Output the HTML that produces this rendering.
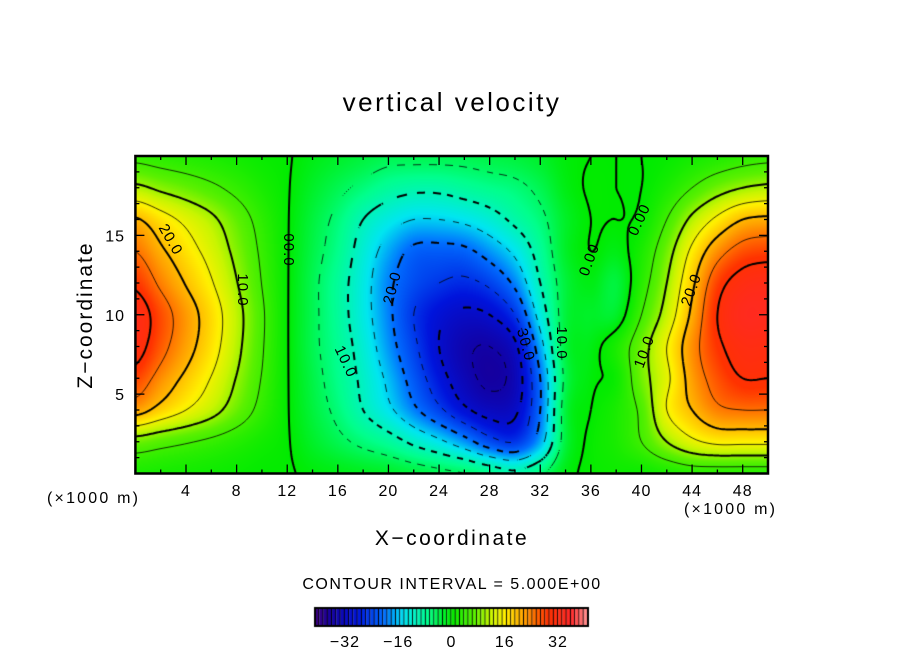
<!DOCTYPE html>
<html><head><meta charset="utf-8"><style>
body{margin:0;background:#fff;width:904px;height:654px;overflow:hidden;position:relative;font-family:"Liberation Sans",sans-serif;}
.t{position:absolute;color:#000;white-space:nowrap;}
canvas,svg{position:absolute;left:0;top:0;}
</style></head><body>
<canvas id="cv" width="904" height="654"></canvas>
<svg id="ov" width="904" height="654"></svg>
<div class="t" style="left:0;width:904px;text-align:center;top:87px;font-size:26px;letter-spacing:2.5px;">vertical velocity</div>
<div class="t" style="left:86px;top:315px;font-size:21px;letter-spacing:2px;transform:translate(-50%,-50%) rotate(-90deg);">Z−coordinate</div>
<div class="t" style="left:0;width:904px;text-align:center;top:527px;font-size:21px;letter-spacing:2.5px;">X−coordinate</div>
<div class="t" style="left:47px;top:490px;font-size:16px;letter-spacing:2.2px;">(×1000 m)</div>
<div class="t" style="left:684px;top:501px;font-size:16px;letter-spacing:2.2px;">(×1000 m)</div>
<div class="t" style="left:0;width:904px;text-align:center;top:576px;font-size:16px;letter-spacing:1.5px;">CONTOUR INTERVAL = 5.000E+00</div>
<script>
const xs=[0,2,4,6,8,10,12,14,16,18,20,22,24,26,28,30,32,34,36,38,40,42,44,46,48,50];
const zs=[0,2,4,6,8,10,12,14,16,18,20];
const w00=[2,1.7,1.4,1.1,.7,.3,.2,-.5,-1,-1.5,-2,-3,-4,-5,-7,-9,-6,-1,.5,1,1,2,3,3,3,3];
const w02=[8,6.6,5.4,4.2,2.8,1.4,.2,-2,-4,-6,-8,-11,-14,-18,-23,-25,-17,-3,.5,2,5,10,14,16,16,16];
const w04=[22,18.3,15,11.7,7.7,3.7,.2,-3,-6,-10,-14,-19,-24,-29,-32,-31,-20,-3,0,2,6,15,20,24,25,25];
const w06=[28,23.2,19,14.8,9.8,4.8,.2,-3.5,-7,-11,-16,-22,-28,-33,-36,-33,-20,-4,-.5,1,8,14,22,27,30,30];
const w08=[32,26.6,21.8,17,11.2,5.4,.2,-4,-7.5,-12,-18,-24,-30,-34,-35,-31,-17,-3,-1,2,8,15,23,29,32,32];
const w10=[33,27.4,22.4,17.5,11.6,5.6,.2,-4,-8,-13,-19,-25,-29,-31,-30,-25,-13,-3,-2,-2,5,12,21,30,34,34];
const w12=[29,24.1,19.7,15.4,10.2,4.9,.2,-4,-8,-13,-19,-23,-25,-26,-24,-19,-10,-3,-1,-3,3,10,19,28,32,33];
const w14=[25,20.8,17,13.3,8.8,4.3,.2,-3.5,-7,-12,-17,-21,-21.5,-21,-18,-14,-8,-2,0,-1,2,8,16,23,27,28];
const w16=[20.5,17,13.9,10.9,7.2,3.5,.2,-3,-6,-10,-13,-15,-15,-14,-12,-9,-6,-2,0,0,.5,5,11,16,20,21];
const w18=[11,9.1,7.5,5.8,3.9,1.9,.2,-2,-4,-6,-8,-9,-9,-8,-7,-6,-4,-1,.2,0,0,2,5,8,10,11];
const w20=[4,3.3,2.7,2.1,1.4,.7,.2,-1,-2,-3,-4,-4,-4,-4,-3.5,-3,-2,-.5,0,0,0,.5,1.5,2.5,3.5,4];
const grid=[w00,w02,w04,w06,w08,w10,w12,w14,w16,w18,w20];
const xTicks=[4,8,12,16,20,24,28,32,36,40,44,48];
const zTicks=[5,10,15];
const cbTicks=[-32,-16,0,16,32];
const levels=[-35,-30,-25,-20,-15,-10,-5,0,5,10,15,20,25,30];

const L=135.4,R=768,T=156,B=473.5,X0=0,X1=50,Z0=0,Z1=20;
const sx=x=>L+(x-X0)/(X1-X0)*(R-L);
const sz=z=>B-(z-Z0)/(Z1-Z0)*(B-T);
const stops=[[-41,[64,0,128]],[-36,[20,0,160]],[-28,[0,20,220]],[-20,[0,110,255]],[-14,[0,230,240]],[-7,[0,255,140]],[0,[0,235,0]],[7,[90,240,0]],[12,[200,245,0]],[16,[255,240,0]],[22,[255,160,0]],[29,[255,50,0]],[36,[255,40,40]],[41,[255,150,150]]];
function cmap(v){if(v<=stops[0][0])return stops[0][1];for(let i=1;i<stops.length;i++){if(v<=stops[i][0]){const a=stops[i-1],b=stops[i],t=(v-a[0])/(b[0]-a[0]);return a[1].map((c,k)=>c+(b[1][k]-c)*t);}}return stops[stops.length-1][1];}
function cr(p0,p1,p2,p3,t){return 0.5*((2*p1)+(-p0+p2)*t+(2*p0-5*p1+4*p2-p3)*t*t+(-p0+3*p1-3*p2+p3)*t*t*t);}
const nx=xs.length,nz=zs.length;
function g(i,j){i=Math.max(0,Math.min(nx-1,i));j=Math.max(0,Math.min(nz-1,j));return grid[j][i];}
function field(x,z){
  let fx=(x-xs[0])/(xs[1]-xs[0]),fz=(z-zs[0])/(zs[1]-zs[0]);
  let i=Math.min(nx-2,Math.max(0,Math.floor(fx))),j=Math.min(nz-2,Math.max(0,Math.floor(fz)));
  let tx=fx-i,tz=fz-j,r=[];
  for(let k=-1;k<=2;k++)r.push(cr(g(i-1,j+k),g(i,j+k),g(i+1,j+k),g(i+2,j+k),tx));
  return cr(r[0],r[1],r[2],r[3],tz);
}
const cv=document.getElementById('cv'),ctx=cv.getContext('2d');
const x0p=Math.round(L),x1p=Math.round(R),y0p=Math.round(T),y1p=Math.round(B);
const W=x1p-x0p,H=y1p-y0p,img=ctx.createImageData(W,H);
for(let py=0;py<H;py++)for(let px=0;px<W;px++){
  const x=X0+(px+x0p+0.5-L)/(R-L)*(X1-X0),z=Z0+(B-(py+y0p+0.5))/(B-T)*(Z1-Z0);
  const c=cmap(field(x,z)),o=(py*W+px)*4;img.data[o]=c[0];img.data[o+1]=c[1];img.data[o+2]=c[2];img.data[o+3]=255;}
ctx.putImageData(img,x0p,y0p);
const st=2,CW=Math.ceil(W/st),CH=Math.ceil(H/st),F=[];
for(let j=0;j<=CH;j++){F.push([]);for(let i=0;i<=CW;i++){const px=x0p+i*st,py=y0p+j*st;F[j].push(field(X0+(px-L)/(R-L)*(X1-X0),Z0+(B-py)/(B-T)*(Z1-Z0)));}}
ctx.save();ctx.beginPath();ctx.rect(x0p,y0p,W,H);ctx.clip();ctx.strokeStyle='#000';
levels.forEach(lv=>{
  ctx.lineWidth=(lv%10===0)?2:0.8;ctx.beginPath();
  for(let j=0;j<CH;j++)for(let i=0;i<CW;i++){
    const a=F[j][i],b=F[j][i+1],c=F[j+1][i+1],d=F[j+1][i];
    const px=x0p+i*st,py=y0p+j*st,pts=[];
    const e=(v1,v2,x1,y1,x2,y2)=>{if((v1-lv)*(v2-lv)<0){const t=(lv-v1)/(v2-v1);pts.push([x1+(x2-x1)*t,y1+(y2-y1)*t]);}};
    e(a,b,px,py,px+st,py);e(b,c,px+st,py,px+st,py+st);e(c,d,px+st,py+st,px,py+st);e(d,a,px,py+st,px,py);
    if(lv<0&&Math.floor((px+py)/8)%2===1)continue;
    for(let k=0;k+1<pts.length;k+=2){ctx.moveTo(pts[k][0],pts[k][1]);ctx.lineTo(pts[k+1][0],pts[k+1][1]);}
  }
  ctx.stroke();});
ctx.restore();
const cbL=315,cbR=588,cbT=608,cbB=626,cv0=-41,cv1=41,cbx=v=>cbL+(v-cv0)/(cv1-cv0)*(cbR-cbL);
const nb=64;
for(let k=0;k<nb;k++){const v=cv0+(k+0.5)*(cv1-cv0)/nb,c=cmap(v);ctx.fillStyle=`rgb(${c.map(Math.round).join(',')})`;const xa=cbx(cv0+k*(cv1-cv0)/nb),xb=cbx(cv0+(k+1)*(cv1-cv0)/nb);ctx.fillRect(xa,cbT,xb-xa,cbB-cbT);ctx.fillStyle='#000';ctx.fillRect(xb-1,cbT,1,cbB-cbT);}
ctx.lineWidth=2;ctx.strokeStyle='#000';ctx.strokeRect(cbL,cbT,cbR-cbL,cbB-cbT);
const ov=document.getElementById('ov'),NS='http://www.w3.org/2000/svg';
function mk(tag,at,txt){const el=document.createElementNS(NS,tag);for(const k in at)el.setAttribute(k,at[k]);if(txt!==undefined)el.textContent=txt;ov.appendChild(el);return el;}
let fr=mk('rect',{x:L,y:T,width:R-L,height:B-T,fill:'none',stroke:'#000','stroke-width':2.5});


for(let x=2;x<50;x+=2){const len=(x%4===0)?9:4;
  let t1=mk('line',{x1:sx(x),x2:sx(x),y1:B,y2:B-len,stroke:'#000','stroke-width':1.3});
  
  
  let t2=mk('line',{x1:sx(x),x2:sx(x),y1:T,y2:T+len,stroke:'#000','stroke-width':1.3});
  
  }
for(let z=1;z<20;z++){const len=(z%5===0)?9:4;
  let t1=mk('line',{x1:L,x2:L+len,y1:sz(z),y2:sz(z),stroke:'#000','stroke-width':1.3});
  
  
  let t2=mk('line',{x1:R,x2:R-len,y1:sz(z),y2:sz(z),stroke:'#000','stroke-width':1.3});
  
  }
xTicks.forEach(v=>{let t=mk('text',{x:sx(v),y:496,'text-anchor':'middle','font-size':16,'letter-spacing':1,'font-family':'Liberation Sans'},String(v));
  
  });
zTicks.forEach(v=>{let t=mk('text',{x:125,y:sz(v)+6,'text-anchor':'end','font-size':16,'letter-spacing':1,'font-family':'Liberation Sans'},String(v));
  
  });
cbTicks.forEach(v=>{let t=mk('text',{x:cbx(v),y:647,'text-anchor':'middle','font-size':16,'letter-spacing':1,'font-family':'Liberation Sans'},(v<0?'−':'')+Math.abs(v));
  
  });
const labs=[['20.0',170,240,60],['10.0',242,290,90],['00.0',288,250,90],['20.0',393,288,-75],['10.0',345,362,65],['30.0',525,345,75],['10.0',561,343,90],['0.00',590,260,-70],['0.00',640,220,-65],['20.0',692,290,-70],['10.0',645,352,-70]];
labs.forEach(l=>{let t=mk('text',{x:l[1],y:l[2],'text-anchor':'middle','dominant-baseline':'middle','font-size':15,'letter-spacing':1,'font-family':'Liberation Sans',transform:`rotate(${l[3]} ${l[1]} ${l[2]})`},l[0]);
  
  });
</script>
</body></html>
